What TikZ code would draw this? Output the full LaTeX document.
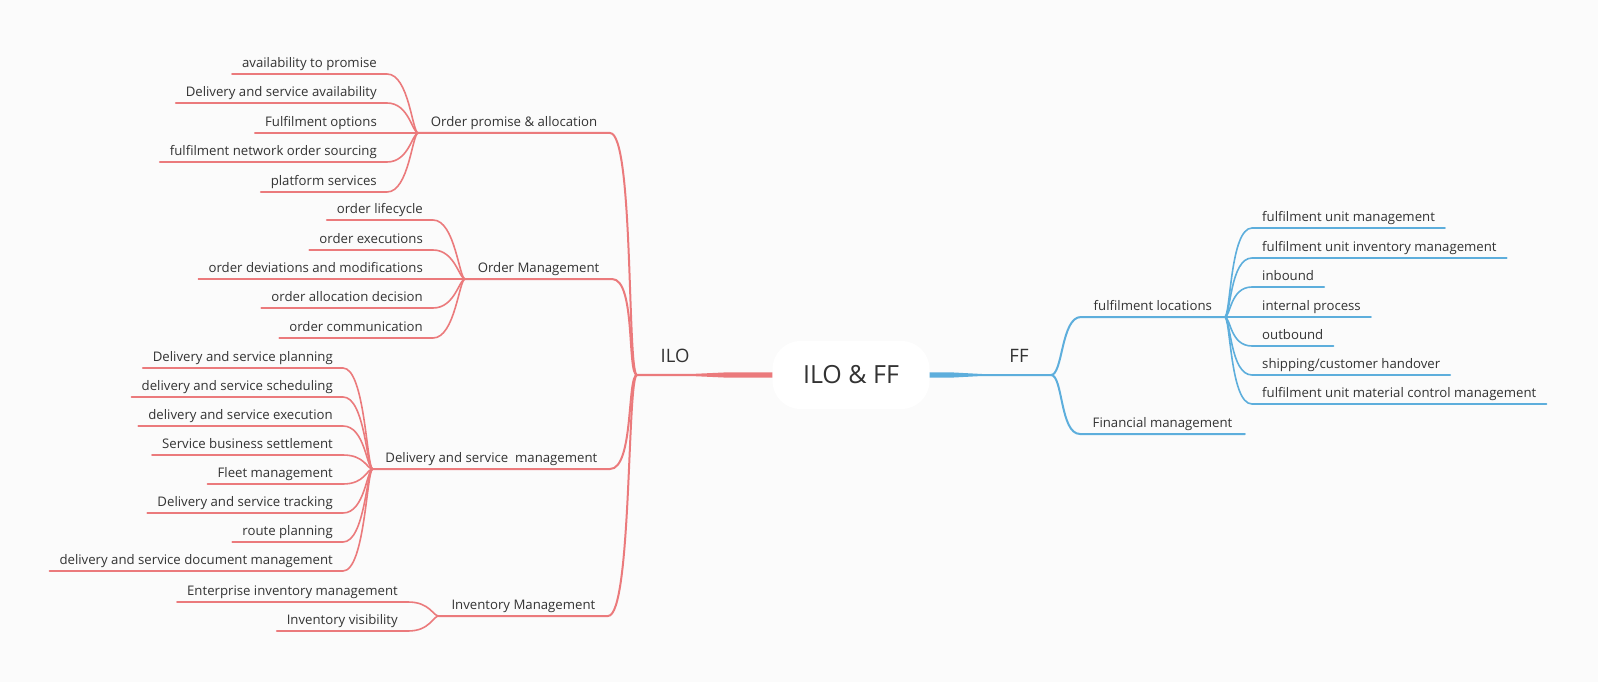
\documentclass[tikz,border=0pt]{standalone}
\usepackage{fontspec}
\setmainfont{Open Sans}
\usetikzlibrary{calc}
\definecolor{ilored}{HTML}{EB7A7C}
\definecolor{ffblue}{HTML}{5DAEDC}
\definecolor{txt}{HTML}{333333}
\definecolor{bg}{HTML}{FBFBFB}
\begin{document}
\begin{tikzpicture}[x=1pt, y=-1pt,
    subtopic/.style={text=txt, font=\fontsize{13.2}{15}\selectfont, inner xsep=10pt, inner ysep=0pt, text height=9.5pt, text depth=6pt},
    topic/.style={subtopic, inner xsep=12.5pt},
    redlink/.style={draw=ilored, line width=1.6pt, line cap=round},
    bluelink/.style={draw=ffblue, line width=1.6pt, line cap=round}]
        \fill[bg] (0,0) rectangle (1598,682);
        \useasboundingbox (0,0) rectangle (1598,682);

        % Nút trung tâm
        \node[fill=white, rounded corners=28pt, minimum width=157pt, minimum height=68pt, text=txt, font=\fontsize{25}{30}\selectfont] (root) at (851,375) {ILO \& FF};
        \coordinate (iloj) at (637,375);
        \coordinate (ffj) at (1051,375);
        \node[text=txt, font=\fontsize{18.5}{22}\selectfont] (ilo) at (675,356) {ILO};
        \node[text=txt, font=\fontsize{18.5}{22}\selectfont] (ff) at (1019,356) {FF};
        \fill[ilored] ($(iloj)+(0,-1)$) -- (695,373.8) -- (728,372.3) -- ($(root.west)+(0,-2.7)$) -- ($(root.west)+(0,2.7)$) -- (728,377.7) -- (695,376.2) -- ($(iloj)+(0,1)$) -- cycle;
        \fill[ffblue] ($(ffj)+(0,-1)$) -- (982,374) -- (952,372.4) -- ($(root.east)+(0,-2.7)$) -- ($(root.east)+(0,2.7)$) -- (952,377.6) -- (982,376) -- ($(ffj)+(0,1)$) -- cycle;

        % Nhánh ILO: các chủ đề chính
        \node[topic, anchor=south east] (opa) at (610,133) {Order promise \& allocation};
        \node[topic, anchor=south east] (om) at (612,279) {Order Management};
        \node[topic, anchor=south east] (dsm) at (610,469) {Delivery and service\ \ management};
        \node[topic, anchor=south east] (im) at (608,616) {Inventory Management};
        \draw[redlink, line width=2pt] (iloj) .. controls +(-10,0) and +(24,0) .. (opa.south east) -- (opa.south west);
        \draw[redlink, line width=2pt] (iloj) .. controls +(-10,0) and +(24,0) .. (om.south east) -- (om.south west);
        \draw[redlink, line width=2pt] (iloj) .. controls +(-10,0) and +(24,0) .. (dsm.south east) -- (dsm.south west);
        \draw[redlink, line width=2pt] (iloj) .. controls +(-10,0) and +(24,0) .. (im.south east) -- (im.south west);

        % Order promise & allocation
        \node[subtopic, anchor=south east] (a1) at (387,74) {availability to promise};
        \node[subtopic, anchor=south east] (a2) at (387,103) {Delivery and service availability};
        \node[subtopic, anchor=south east] (a3) at (387,133) {Fulfilment options};
        \node[subtopic, anchor=south east] (a4) at (387,162) {fulfilment network order sourcing};
        \node[subtopic, anchor=south east] (a5) at (387,192) {platform services};
        \draw[redlink] (opa.south west) .. controls +(-6,0) and +(22,0) .. (a1.south east) -- (a1.south west);
        \draw[redlink] (opa.south west) .. controls +(-6,0) and +(22,0) .. (a2.south east) -- (a2.south west);
        \draw[redlink] (opa.south west) -- (a3.south east) -- (a3.south west);
        \draw[redlink] (opa.south west) .. controls +(-6,0) and +(22,0) .. (a4.south east) -- (a4.south west);
        \draw[redlink] (opa.south west) .. controls +(-6,0) and +(22,0) .. (a5.south east) -- (a5.south west);

        % Order Management
        \node[subtopic, anchor=south east] (b1) at (433,220) {order lifecycle};
        \node[subtopic, anchor=south east] (b2) at (433,250) {order executions};
        \node[subtopic, anchor=south east] (b3) at (433,279) {order deviations and modifications};
        \node[subtopic, anchor=south east] (b4) at (433,308) {order allocation decision};
        \node[subtopic, anchor=south east] (b5) at (433,338) {order communication};
        \draw[redlink] (om.south west) .. controls +(-6,0) and +(22,0) .. (b1.south east) -- (b1.south west);
        \draw[redlink] (om.south west) .. controls +(-6,0) and +(22,0) .. (b2.south east) -- (b2.south west);
        \draw[redlink] (om.south west) -- (b3.south east) -- (b3.south west);
        \draw[redlink] (om.south west) .. controls +(-6,0) and +(22,0) .. (b4.south east) -- (b4.south west);
        \draw[redlink] (om.south west) .. controls +(-6,0) and +(22,0) .. (b5.south east) -- (b5.south west);

        % Delivery and service management
        \node[subtopic, anchor=south east] (c1) at (343,368) {Delivery and service planning};
        \node[subtopic, anchor=south east] (c2) at (343,397) {delivery and service scheduling};
        \node[subtopic, anchor=south east] (c3) at (343,426) {delivery and service execution};
        \node[subtopic, anchor=south east] (c4) at (343,455) {Service business settlement};
        \node[subtopic, anchor=south east] (c5) at (343,484) {Fleet management};
        \node[subtopic, anchor=south east] (c6) at (343,513) {Delivery and service tracking};
        \node[subtopic, anchor=south east] (c7) at (343,542) {route planning};
        \node[subtopic, anchor=south east] (c8) at (343,571) {delivery and service document management};
        \draw[redlink] (dsm.south west) .. controls +(-6,0) and +(22,0) .. (c1.south east) -- (c1.south west);
        \draw[redlink] (dsm.south west) .. controls +(-6,0) and +(22,0) .. (c2.south east) -- (c2.south west);
        \draw[redlink] (dsm.south west) .. controls +(-6,0) and +(22,0) .. (c3.south east) -- (c3.south west);
        \draw[redlink] (dsm.south west) .. controls +(-6,0) and +(22,0) .. (c4.south east) -- (c4.south west);
        \draw[redlink] (dsm.south west) .. controls +(-6,0) and +(22,0) .. (c5.south east) -- (c5.south west);
        \draw[redlink] (dsm.south west) .. controls +(-6,0) and +(22,0) .. (c6.south east) -- (c6.south west);
        \draw[redlink] (dsm.south west) .. controls +(-6,0) and +(22,0) .. (c7.south east) -- (c7.south west);
        \draw[redlink] (dsm.south west) .. controls +(-6,0) and +(22,0) .. (c8.south east) -- (c8.south west);

        % Inventory Management
        \node[subtopic, anchor=south east] (d1) at (408,602) {Enterprise inventory management};
        \node[subtopic, anchor=south east] (d2) at (408,631) {Inventory visibility};
        \draw[redlink] (im.south west) .. controls +(-6,0) and +(22,0) .. (d1.south east) -- (d1.south west);
        \draw[redlink] (im.south west) .. controls +(-6,0) and +(22,0) .. (d2.south east) -- (d2.south west);

        % Nhánh FF
        \node[topic, anchor=south west] (fl) at (1081,317) {fulfilment locations};
        \node[topic, anchor=south west] (fm) at (1080,434) {Financial management};
        \draw[bluelink, line width=2pt] (ffj) .. controls +(12,0) and +(-20,0) .. (fl.south west) -- (fl.south east);
        \draw[bluelink, line width=2pt] (ffj) .. controls +(12,0) and +(-20,0) .. (fm.south west) -- (fm.south east);

        % fulfilment locations
        \node[subtopic, anchor=south west] (e1) at (1252,228) {fulfilment unit management};
        \node[subtopic, anchor=south west] (e2) at (1252,258) {fulfilment unit inventory management};
        \node[subtopic, anchor=south west] (e3) at (1252,287) {inbound};
        \node[subtopic, anchor=south west] (e4) at (1252,317) {internal process};
        \node[subtopic, anchor=south west] (e5) at (1252,346) {outbound};
        \node[subtopic, anchor=south west] (e6) at (1252,375) {shipping/customer handover};
        \node[subtopic, anchor=south west] (e7) at (1252,404) {fulfilment unit material control management};
        \draw[bluelink] (fl.south east) .. controls +(6,0) and +(-22,0) .. (e1.south west) -- (e1.south east);
        \draw[bluelink] (fl.south east) .. controls +(6,0) and +(-22,0) .. (e2.south west) -- (e2.south east);
        \draw[bluelink] (fl.south east) .. controls +(6,0) and +(-22,0) .. (e3.south west) -- (e3.south east);
        \draw[bluelink] (fl.south east) -- (e4.south west) -- (e4.south east);
        \draw[bluelink] (fl.south east) .. controls +(6,0) and +(-22,0) .. (e5.south west) -- (e5.south east);
        \draw[bluelink] (fl.south east) .. controls +(6,0) and +(-22,0) .. (e6.south west) -- (e6.south east);
        \draw[bluelink] (fl.south east) .. controls +(6,0) and +(-22,0) .. (e7.south west) -- (e7.south east);
    \end{tikzpicture}
\end{document}
